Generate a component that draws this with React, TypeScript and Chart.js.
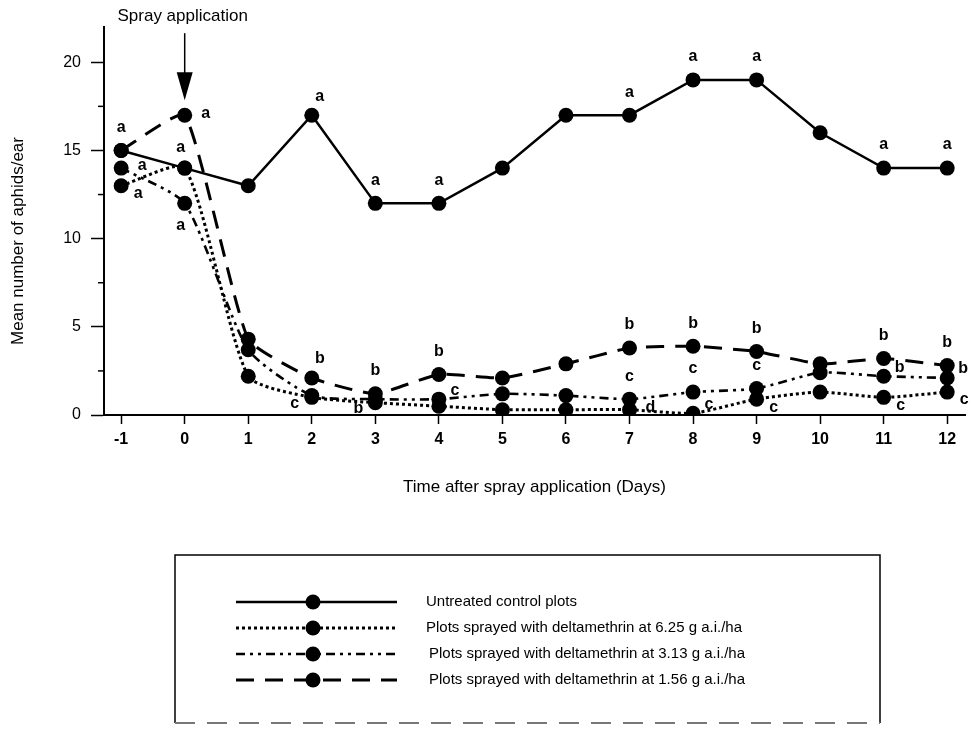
import React, { useEffect, useRef } from 'react';
import { Chart, registerables } from 'chart.js';

Chart.register(...registerables);

// ---------- data ----------
const days = [-1, 0, 1, 2, 3, 4, 5, 6, 7, 8, 9, 10, 11, 12];
const controlValues = [15, 14, 13, 17, 12, 12, 14, 17, 17, 19, 19, 16, 14, 14];
const dose625Values = [13, 14, 2.2, 1.0, 0.7, 0.5, 0.3, 0.3, 0.3, 0.1, 0.9, 1.3, 1.0, 1.3];
const dose313Values = [14, 12, 3.7, 1.1, 0.9, 0.9, 1.2, 1.1, 0.9, 1.3, 1.5, 2.4, 2.2, 2.1];
const dose156Values = [15, 17, 4.3, 2.1, 1.2, 2.3, 2.1, 2.9, 3.8, 3.9, 3.6, 2.9, 3.2, 2.8];

const seriesNames = [
  'Untreated control plots',
  'Plots sprayed with deltamethrin at 6.25 g a.i./ha',
  'Plots sprayed with deltamethrin at 3.13 g a.i./ha',
  'Plots sprayed with deltamethrin at 1.56 g a.i./ha',
];

// significance letters per series, one per day
const controlLetters = ['a', 'a', '', 'a', 'a', 'a', '', '', 'a', 'a', 'a', '', 'a', 'a'];
const dose625Letters = ['a', '', '', 'c', 'b', '', '', '', 'd', 'c', 'c', '', 'c', 'c'];
const dose313Letters = ['a', 'a', '', '', '', 'c', '', '', 'c', 'c', 'c', '', 'b', 'b'];
const dose156Letters = ['', 'a', '', 'b', 'b', 'b', '', '', 'b', 'b', 'b', '', 'b', 'b'];

const xTickValues = days;
const yMajorTicks = [0, 5, 10, 15, 20];
const yMinorTicks = [2.5, 7.5, 12.5, 17.5];
const xAxisTitle = 'Time after spray application (Days)';
const yAxisTitle = 'Mean number of aphids/ear';
const sprayLabel = 'Spray application';
const sprayDay = 0;
const arrowTipValue = 17.85;
const arrowTopValue = 21.65;

// ---------- styles ----------
const FONT = '"Liberation Sans", Arial, Helvetica, sans-serif';
const placementOffsets: Record<string, [number, number]> = {
  N: [0, -23],
  NW: [-4, -20],
  NE: [8, -19],
  E: [21, -2],
  ENE: [16, -9],
  SE: [17, 8],
  S: [-4, 22],
  SW: [-17, 6],
  '': [0, 0],
};
const controlPlacement = ['N', 'NW', '', 'NE', 'N', 'N', '', '', 'N', 'N', 'N', '', 'N', 'N'];
const dose625Placement = ['SE', '', '', 'SW', 'SW', '', '', '', 'E', 'ENE', 'SE', '', 'SE', 'SE'];
const dose313Placement = ['E', 'S', '', '', '', 'ENE', '', '', 'N', 'N', 'N', '', 'ENE', 'ENE'];
const dose156Placement = ['', 'E', '', 'NE', 'N', 'N', '', '', 'N', 'N', 'N', '', 'N', 'N'];

const allLetters = [controlLetters, dose625Letters, dose313Letters, dose156Letters];
const allPlacements = [controlPlacement, dose625Placement, dose313Placement, dose156Placement];

const lineStyles = [
  { dash: [] as number[], width: 2.5, tension: 0 },
  { dash: [3, 3], width: 3, tension: 0.2 },
  { dash: [9, 5, 3, 5, 3, 5], width: 2.6, tension: 0.2 },
  { dash: [18, 11], width: 3, tension: 0.15 },
];

const annotationPlugin = {
  id: 'annotations',
  afterDraw(chart: any) {
    const { ctx, scales } = chart;
    const xs = scales.x;
    const ys = scales.y;
    ctx.save();

    // minor y ticks
    ctx.strokeStyle = '#000';
    ctx.lineWidth = 1.5;
    ctx.setLineDash([]);
    yMinorTicks.forEach((v) => {
      const y = ys.getPixelForValue(v);
      ctx.beginPath();
      ctx.moveTo(xs.left - 6, y);
      ctx.lineTo(xs.left, y);
      ctx.stroke();
    });

    // significance letters
    ctx.fillStyle = '#000';
    ctx.font = `bold 16px ${FONT}`;
    ctx.textAlign = 'center';
    ctx.textBaseline = 'middle';
    allLetters.forEach((letters, di) => {
      const meta = chart.getDatasetMeta(di);
      letters.forEach((l, i) => {
        if (!l) return;
        const pt = meta.data[i];
        const [dx, dy] = placementOffsets[allPlacements[di][i]] || [0, 0];
        ctx.fillText(l, pt.x + dx, pt.y + dy);
      });
    });

    // spray arrow
    const ax = xs.getPixelForValue(sprayDay);
    const tipY = ys.getPixelForValue(arrowTipValue);
    const topY = ys.getPixelForValue(arrowTopValue);
    const headH = 28;
    const headW = 8;
    ctx.lineWidth = 1.5;
    ctx.beginPath();
    ctx.moveTo(ax, topY);
    ctx.lineTo(ax, tipY - headH + 2);
    ctx.stroke();
    ctx.beginPath();
    ctx.moveTo(ax - headW, tipY - headH);
    ctx.lineTo(ax + headW, tipY - headH);
    ctx.lineTo(ax, tipY);
    ctx.closePath();
    ctx.fill();
    ctx.font = `17px ${FONT}`;
    ctx.textAlign = 'center';
    ctx.textBaseline = 'middle';
    ctx.fillText(sprayLabel, ax - 2, topY - 17);

    // y axis title
    ctx.save();
    ctx.translate(18, 241);
    ctx.rotate(-Math.PI / 2);
    ctx.font = `17px ${FONT}`;
    ctx.textAlign = 'center';
    ctx.textBaseline = 'middle';
    ctx.fillText(yAxisTitle, 0, 0);
    ctx.restore();

    // legend box
    const bx1 = 175, by1 = 555, bx2 = 880, by2 = 723;
    ctx.strokeStyle = '#000';
    ctx.lineWidth = 1.5;
    ctx.setLineDash([]);
    ctx.beginPath();
    ctx.moveTo(bx1, by2);
    ctx.lineTo(bx1, by1);
    ctx.lineTo(bx2, by1);
    ctx.lineTo(bx2, by2);
    ctx.stroke();
    ctx.strokeStyle = '#777';
    ctx.lineWidth = 2;
    ctx.setLineDash([20, 12]);
    ctx.beginPath();
    ctx.moveTo(bx1, by2);
    ctx.lineTo(bx2, by2);
    ctx.stroke();

    const rowY = [602, 628, 654, 680];
    const lx1 = 236, lx2 = 397, mx = 313, tx = 426;
    chart.data.datasets.forEach((ds: any, i: number) => {
      const y = rowY[i];
      ctx.strokeStyle = '#000';
      ctx.lineWidth = ds.borderWidth;
      ctx.setLineDash(ds.borderDash || []);
      ctx.beginPath();
      ctx.moveTo(lx1, y);
      ctx.lineTo(lx2, y);
      ctx.stroke();
      ctx.setLineDash([]);
      ctx.beginPath();
      ctx.arc(mx, y, 7.5, 0, Math.PI * 2);
      ctx.fill();
      ctx.font = `15px ${FONT}`;
      ctx.textAlign = 'left';
      ctx.textBaseline = 'middle';
      ctx.fillText(ds.label, tx + (i >= 2 ? 3 : 0), y);
    });

    ctx.restore();
  },
};

export default function App() {
  const canvasRef = useRef<HTMLCanvasElement | null>(null);

  useEffect(() => {
    if (!canvasRef.current) return;
    const seriesValues = [controlValues, dose625Values, dose313Values, dose156Values];
    const datasets = seriesValues.map((vals, i) => ({
      label: seriesNames[i],
      data: vals.map((v, j) => ({ x: days[j], y: v })),
      borderColor: '#000',
      backgroundColor: '#000',
      borderWidth: lineStyles[i].width,
      borderDash: lineStyles[i].dash,
      pointRadius: 7.5,
      pointBorderWidth: 0,
      pointBackgroundColor: '#000',
      tension: lineStyles[i].tension,
      fill: false,
    }));

    const chart = new Chart(canvasRef.current, {
      type: 'line',
      data: { datasets },
      options: {
        animation: false,
        responsive: false,
        maintainAspectRatio: false,
        layout: { padding: { left: 0, right: 8, top: 27, bottom: 0 } },
        plugins: {
          legend: { display: false },
          tooltip: { enabled: false },
        },
        scales: {
          x: {
            type: 'linear',
            min: -1.27,
            max: 12.28,
            afterBuildTicks: (s: any) => {
              s.ticks = xTickValues.map((v) => ({ value: v }));
            },
            afterFit: (s: any) => {
              s.height = 320;
            },
            ticks: {
              color: '#000',
              font: { family: FONT, size: 16, weight: 'bold' },
              padding: 6,
              maxRotation: 0,
              autoSkip: false,
              callback: (v: any) => String(v),
            },
            grid: {
              display: true,
              drawOnChartArea: false,
              drawTicks: true,
              tickLength: 9,
              tickColor: '#000',
              tickWidth: 1.5,
            },
            border: { display: true, color: '#000', width: 2 },
            title: {
              display: true,
              text: xAxisTitle,
              color: '#000',
              font: { family: FONT, size: 17 },
              padding: { top: 0, bottom: 237 },
            },
          },
          y: {
            type: 'linear',
            min: 0,
            max: 22,
            afterBuildTicks: (s: any) => {
              s.ticks = yMajorTicks.map((v) => ({ value: v }));
            },
            afterFit: (s: any) => {
              s.width = 104;
            },
            ticks: {
              color: '#000',
              font: { family: FONT, size: 16 },
              padding: 10,
              callback: (v: any) => String(v),
            },
            grid: {
              display: true,
              drawOnChartArea: false,
              drawTicks: true,
              tickLength: 13,
              tickColor: '#000',
              tickWidth: 1.5,
            },
            border: { display: true, color: '#000', width: 2 },
            title: { display: false },
          },
        },
      } as any,
      plugins: [annotationPlugin],
    });
    return () => chart.destroy();
  }, []);

  return (
    <div style={{ position: 'absolute', left: 0, top: 0, width: 973, height: 735, background: '#fff' }}>
      <canvas ref={canvasRef} width={973} height={735} style={{ display: 'block' }} />
    </div>
  );
}
